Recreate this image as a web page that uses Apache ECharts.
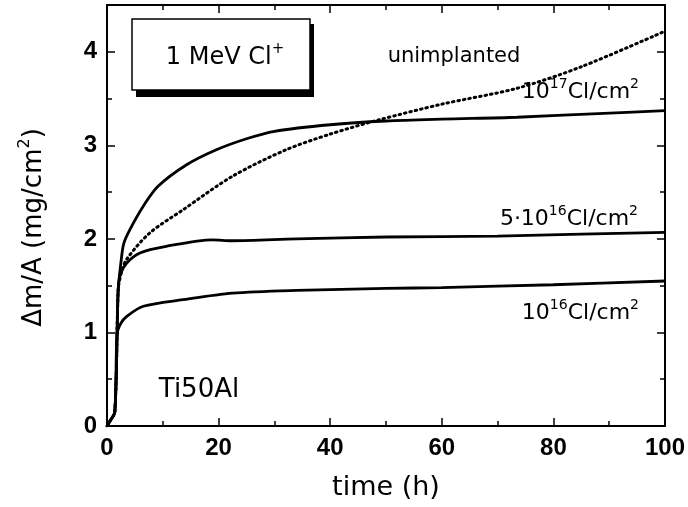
<!DOCTYPE html>
<html>
<head>
<meta charset="utf-8">
<script src="https://cdn.jsdelivr.net/npm/echarts@6/dist/echarts.min.js"></script>
<style>
  html, body { margin: 0; padding: 0; background: #fff; }
  #chart { width: 688px; height: 507px; }
</style>
</head>
<body>
<div id="chart"></div>
<script>
// time (h) and mass gain (mg/cm2)
const tUnimpl = [0, 0.5, 1.4, 2.0, 2.5, 3.5, 7.6, 13.6, 22.5, 32, 40, 48.6, 60, 73.5, 85, 100];
const yUnimpl = [0, 0.05, 0.15, 1.45, 1.62, 1.78, 2.06, 2.31, 2.67, 2.95, 3.12, 3.27, 3.44, 3.61, 3.84, 4.22];

const t17 = [0, 0.5, 1.4, 2.0, 2.5, 3, 4.1, 6.5, 9.1, 14.2, 19.5, 25, 30, 40, 50, 60, 73.5, 88, 100];
const y17 = [0, 0.05, 0.15, 1.45, 1.75, 1.95, 2.1, 2.35, 2.56, 2.79, 2.95, 3.07, 3.15, 3.22, 3.26, 3.28, 3.3, 3.34, 3.37];

const t5e16 = [0, 0.5, 1.4, 2.0, 2.4, 3.5, 5.9, 10.6, 18.9, 22.4, 34, 50, 70, 85, 100];
const y5e16 = [0, 0.05, 0.15, 1.45, 1.62, 1.74, 1.85, 1.92, 1.99, 1.98, 2.0, 2.02, 2.03, 2.05, 2.07];

const t16 = [0, 0.5, 1.4, 1.8, 2.5, 3.5, 6.5, 13.6, 22.5, 34, 50, 60, 80, 100];
const y16 = [0, 0.05, 0.15, 0.98, 1.1, 1.17, 1.28, 1.35, 1.42, 1.45, 1.47, 1.48, 1.51, 1.55];

const xTicks = [0, 20, 40, 60, 80, 100];
const yTicks = [0, 1, 2, 3, 4];

const pairs = (t, y) => t.map((v, i) => [v, y[i]]);

const FONT = "DejaVu Sans";
const TICKFONT = "Liberation Sans";
const chart = echarts.init(document.getElementById("chart"));

const frameAxis = () => ({
  axisLine: { show: true, onZero: false, lineStyle: { color: "#000", width: 2 } },
  axisTick: { show: true, inside: true, length: 8, lineStyle: { color: "#000", width: 1.5 } },
  minorTick: { show: true, splitNumber: 2, length: 5, lineStyle: { color: "#000", width: 1.5 } },
  splitLine: { show: false },
});

// extra y axis that only draws the short half-unit ticks
const halfTicks = (pos) => ({
  type: "value", min: 0, max: 4.5, interval: 0.5, position: pos,
  axisLine: { show: false, onZero: false },
  axisTick: { show: true, inside: true, length: 5, lineStyle: { color: "#000", width: 1.5 } },
  axisLabel: { show: false },
  splitLine: { show: false },
});

const supText = (x, y, text, align, size) => ({
  type: "text",
  x: x,
  y: y,
  style: {
    text: text,
    align: align,
    verticalAlign: "middle",
    fill: "#000",
    font: size + "px " + FONT,
    rich: {
      n: { fontSize: size, fontFamily: FONT, lineHeight: size + 4, verticalAlign: "bottom" },
      s: { fontSize: Math.round(size * 0.62), fontFamily: FONT, lineHeight: size + 4, verticalAlign: "top" },
    },
  },
});

chart.setOption({
  animation: false,
  backgroundColor: "#fff",
  grid: { left: 107, right: 19, top: 5, bottom: 81 },
  xAxis: [
    Object.assign(frameAxis(), {
      type: "value", min: 0, max: 100, interval: 20,
      name: "time (h)", nameLocation: "middle", nameGap: 48,
      nameTextStyle: { fontSize: 27, fontFamily: FONT, color: "#000" },
      axisLabel: {
        margin: 10, fontSize: 24, fontWeight: "bold", fontFamily: TICKFONT, color: "#000",
        formatter: (v) => (xTicks.includes(v) ? String(v) : ""),
      },
    }),
    Object.assign(frameAxis(), {
      type: "value", min: 0, max: 100, interval: 20, position: "top",
      axisLabel: { show: false },
    }),
  ],
  yAxis: [
    Object.assign(frameAxis(), {
      type: "value", min: 0, max: 4.5, interval: 1,
      minorTick: { show: false },
      name: "{n|Δm/A (mg/cm}{s|2}{n|)}", nameLocation: "middle", nameGap: 60,
      nameTextStyle: {
        color: "#000",
        padding: [0, 24, 0, 0],
        rich: {
          n: { fontSize: 26, fontFamily: FONT, color: "#000", lineHeight: 30, verticalAlign: "bottom" },
          s: { fontSize: 16, fontFamily: FONT, color: "#000", lineHeight: 30, verticalAlign: "top" },
        },
      },
      axisLabel: {
        margin: 10, fontSize: 24, fontWeight: "bold", fontFamily: TICKFONT, color: "#000", showMaxLabel: false,
        formatter: (v) => (yTicks.includes(v) ? String(v) : ""),
      },
    }),
    Object.assign(frameAxis(), {
      type: "value", min: 0, max: 4.5, interval: 1, position: "right",
      minorTick: { show: false },
      axisLabel: { show: false },
    }),
    halfTicks("left"),
    halfTicks("right"),
  ],
  series: [
    {
      name: "unimplanted", type: "line", data: pairs(tUnimpl, yUnimpl),
      showSymbol: false, smooth: 0.3,
      lineStyle: { color: "#000", width: 3, type: [1.5, 4], cap: "round" },
    },
    {
      name: "1e17", type: "line", data: pairs(t17, y17),
      showSymbol: false, smooth: 0.3,
      lineStyle: { color: "#000", width: 2.8 },
    },
    {
      name: "5e16", type: "line", data: pairs(t5e16, y5e16),
      showSymbol: false, smooth: 0.3,
      lineStyle: { color: "#000", width: 2.8 },
    },
    {
      name: "1e16", type: "line", data: pairs(t16, y16),
      showSymbol: false, smooth: 0.3,
      lineStyle: { color: "#000", width: 2.8 },
    },
  ],
  graphic: [
    // label box with drop shadow
    { type: "rect", shape: { x: 136, y: 24, width: 178, height: 73 }, style: { fill: "#000" } },
    { type: "rect", shape: { x: 132, y: 19, width: 178, height: 71 }, style: { fill: "#fff", stroke: "#000", lineWidth: 1.5 } },
    supText(225, 56, "{n|1 MeV Cl}{s|+}", "center", 24),
    {
      type: "text", x: 454, y: 57,
      style: { text: "unimplanted", align: "center", verticalAlign: "middle", font: "21px " + FONT, fill: "#000" },
    },
    supText(639, 90, "{n|10}{s|17}{n|Cl/cm}{s|2}", "right", 22),
    supText(638, 217, "{n|5·10}{s|16}{n|Cl/cm}{s|2}", "right", 22),
    supText(639, 311, "{n|10}{s|16}{n|Cl/cm}{s|2}", "right", 22),
    {
      type: "text", x: 199, y: 390,
      style: { text: "Ti50Al", align: "center", verticalAlign: "middle", font: "26px " + FONT, fill: "#000" },
    },
  ],
});
</script>
</body>
</html>
